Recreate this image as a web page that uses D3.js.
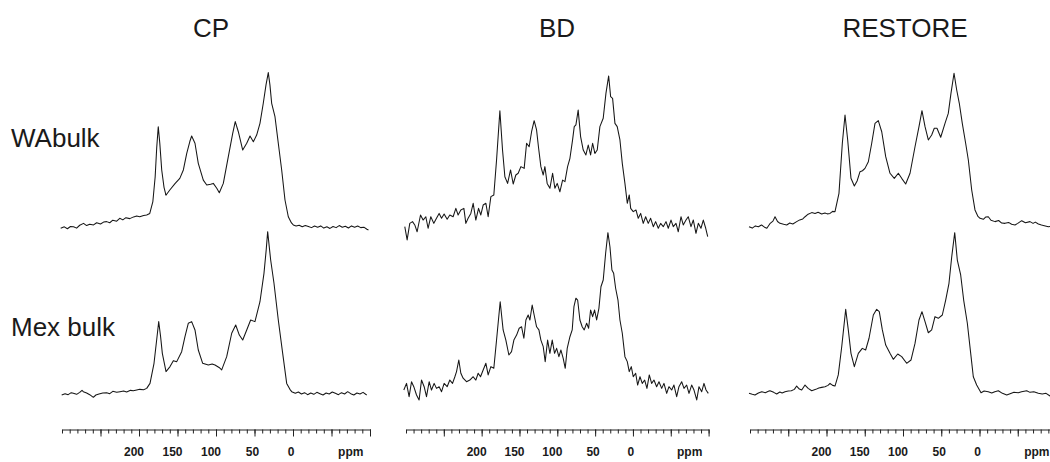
<!DOCTYPE html>
<html>
  <head>
    <script src="https://d3js.org/d3.v7.min.js"></script>
    <style>
      body { margin: 0; background: #fff; }
      svg { display: block; }
    </style>
  </head>
  <body>
    <svg width="1050" height="462"></svg>
    <script>
      // column and row names
      const methods = ["CP", "BD", "RESTORE"];
      const samples = ["WAbulk", "Mex bulk"];

      // axis: ppm domain, ticks and labels
      const ppmDomain = [300, -100];
      const minorTicks = d3.range(300, -101, -10);
      const majorTicks = [250, 200, 150, 100, 50, 0, -50, -100];
      const tickLabels = [200, 150, 100, 50, 0];
      const unitLabel = "ppm";

      // spectra: [ppm, relative intensity]
      const cpWA = [[301.7,1.1],[297,2],[293,0.8],[289,2.2],[285,2.1],[281,1.2],[277,3],[272,4.2],[268,2.8],[264,3.6],[259,3.2],[255,4.6],[250,3.8],[246,5],[242,5.3],[238,4.6],[234,6.2],[229,5.6],[225,7.4],[221,6.4],[217,7.8],[212,7.2],[207,8.3],[203,8.8],[199,8.4],[194,9.2],[190,9.5],[186,10.5],[182,18],[179,33.7],[177,52],[175,65.4],[173,55],[170.5,38],[167.5,27],[165,22],[160,25.3],[153,29.5],[147,32.7],[142.4,38],[138,48.5],[134,56],[131.6,59.5],[127.3,54.9],[123,42.2],[116.5,31.6],[112,28.5],[107,29],[103.5,29.5],[99,26.4],[95.7,23.6],[90.5,29.5],[84,46.4],[78.3,61.2],[75,68.6],[71,62.2],[65.3,50.6],[60.1,54.9],[55.8,59.5],[51.5,55.9],[47.2,60.1],[42.9,67.5],[38.6,80.2],[35,92],[32.1,99.6],[30,92],[27.7,80.2],[23.4,71.7],[19.1,54.9],[14.7,38],[10.4,19],[6.1,8.4],[2,4.5],[-0.4,3.2],[-4,2.5],[-8,3],[-12,2],[-16,2.8],[-20,2.2],[-24,1.5],[-28,2.5],[-32,1.8],[-36,2.6],[-40,1.2],[-44,2],[-48,1],[-52,2.2],[-56,1.5],[-60,2.8],[-64,1.7],[-68,2.4],[-72,1.3],[-76,2.6],[-80,1.8],[-84,2.5],[-88,1.5],[-92,1.8],[-96,0.5],[-98,0]];
      const cpMex = [[300.4,0.6],[296,1.4],[292,0.8],[288,2],[285.3,1.6],[281,1],[277,2.2],[274,3.4],[272.3,2.6],[268,1.8],[264,0.8],[259.3,-0.8],[256,0.6],[252,1.2],[247,1.8],[242,2],[238,1.4],[234,2.8],[229,2.2],[224.7,2.6],[220,3],[216,2.4],[211,3.4],[207.4,3.2],[203,3.6],[199,4],[194,3.8],[190,4.6],[185.7,7.6],[180.5,19.7],[177,34],[174.4,44.8],[172,36],[169.7,25.7],[164.9,14.7],[159.7,17.7],[155.4,21.3],[151,20.7],[144.6,26.7],[140.3,35.7],[136,43.8],[131.6,44.8],[127.3,39.8],[123,27.7],[117.3,19.7],[110,18.7],[105,19.3],[101.3,18.7],[96,17.2],[92.6,15.7],[86.1,23.7],[79.6,37.8],[74.4,42.8],[69.7,36.7],[65.3,33.7],[60.1,39.8],[55,45.8],[49.4,44.8],[42.9,56.8],[37.7,73.9],[34.8,88],[32.9,99],[29,81.9],[24.7,67.9],[19.1,45.8],[13.4,25.7],[8.2,7.6],[4,4],[1.7,2.6],[-3,1.6],[-7,2.4],[-11,1.2],[-15,2],[-19,0.8],[-23,1.8],[-27,1],[-31,2.2],[-35,1.4],[-39,0.6],[-43,1.8],[-47,1.2],[-51,2.4],[-55,1.6],[-59,0.8],[-63,2],[-67,1.2],[-71,2.6],[-75,1.4],[-79,0.6],[-83,1.8],[-87,1.2],[-91,2.2],[-95.7,0.6]];
      const bdWA = [[301.6,2.1],[298.5,-6.3],[295,4.2],[291.4,5.3],[288.4,3.2],[285.3,-1.1],[280.8,9.5],[277.4,6.3],[273.8,8.4],[270.8,1.1],[267.2,8.4],[263.2,4.2],[259.7,7.4],[256.2,10.5],[253,7.4],[249.6,10.1],[245.6,6.8],[242.1,9.5],[237.7,8.4],[234.1,13.7],[231.1,9.5],[227.5,12.7],[223.5,13.7],[220.9,4.2],[217.9,7.4],[214.3,10.5],[211.2,16.9],[207.7,6.3],[204.1,13.7],[201.1,9.5],[198,15.8],[194.4,16.9],[191.4,8.4],[187.8,21.1],[183.9,22.2],[180.3,44.3],[175.9,75.5],[172.4,50.6],[169.3,33.7],[165.7,29.5],[161.8,38],[158.3,29.1],[154.8,34.8],[151.7,35.9],[148.1,40.1],[143.8,39],[140.6,54.9],[137.2,52.7],[134,62.2],[130.6,69.2],[127.4,63.3],[124.7,51.7],[121.7,40.1],[118.6,34.8],[116.4,40.1],[113.4,29.5],[109.8,26.4],[106.2,35.9],[103.2,26.4],[100.1,29.5],[96.6,24.2],[93,31.6],[89.9,30.6],[86.4,40.1],[83.3,45.4],[79.8,57],[77.6,65.4],[75.4,66.5],[72.4,75.9],[69.2,59.1],[65.7,50.6],[62.2,47.5],[59.1,53.8],[56,47.5],[53.3,54.9],[50.3,48.5],[47.2,50.6],[43.7,65.4],[39.3,70.7],[35.7,86.5],[32.1,97.5],[29.5,84.4],[26.9,83.3],[23.8,67.5],[20.8,65.4],[17.2,57],[14.1,42.2],[10.6,29.5],[7.5,16.9],[4.9,22.2],[3,13.7],[-0.4,11.6],[-4,12.7],[-7,7.4],[-10.2,10.5],[-13.6,4.2],[-16.8,8.4],[-20.2,4.2],[-23.4,7.4],[-26.9,2.1],[-30,5.3],[-33.5,1.1],[-36.6,4.2],[-40.1,2.1],[-43.7,5.3],[-46.7,1.1],[-50.3,6.3],[-53.3,2.1],[-56.9,4.2],[-59.9,-1.1],[-63.5,8.4],[-66.5,3.2],[-70.1,6.3],[-73.1,8.4],[-76.7,2.1],[-79.8,6.3],[-83.3,-2.1],[-86.4,4.2],[-89.9,1.1],[-93,6.3],[-96.2,1.1],[-98.8,-4.2]];
      const bdMex = [[302.9,3.6],[299.3,7.6],[295.9,-0.4],[292.7,8.6],[289.7,5.6],[286.1,0.6],[282.7,-2.4],[279.5,9.6],[276,5.6],[272.9,-0.4],[269.4,8.6],[266.3,3.6],[262.8,7.6],[259.7,4.6],[256.2,5.6],[253,2.6],[249.6,7.6],[245.6,5.6],[242.1,9.6],[238.5,7.6],[235.4,11.6],[233.2,14.7],[230.2,21.7],[227.5,13.7],[224.5,10.7],[220,8.6],[215.6,9.6],[211.2,11.6],[207.7,9.6],[204.6,13.7],[201.5,11.6],[198,15.7],[194.4,19.7],[191.4,12.7],[187.8,17.7],[183.9,16.7],[180.3,33.7],[175.5,56.8],[171.6,39.8],[168,33.7],[164,24.7],[160.5,26.7],[157.4,33.7],[153.8,36.7],[150.4,40.8],[147.2,41.7],[144.2,34.8],[141.5,45.8],[138.5,48.8],[136.2,45.8],[133.2,54.8],[130.6,48.8],[127.4,41.7],[124.3,39.8],[121.7,33.7],[118.6,29.7],[116,20.7],[112.8,33.7],[109.8,25.7],[106.7,33.7],[103.6,25.7],[100.9,28.7],[97.9,23.7],[95.2,27.7],[92.2,22.7],[89.5,16.7],[86.9,28.7],[83.3,35.7],[80.3,39.8],[78,53.8],[75.4,58.9],[73.1,57.8],[70.1,45.8],[67.1,41.7],[64.4,39.8],[61.2,43.8],[58.6,40.8],[56,51.8],[53.3,47.8],[50.7,51.8],[48,45.8],[45,52.8],[42.3,65.8],[39.3,69.9],[36.1,86],[33.1,98.4],[30.4,89.9],[27.8,75.9],[25.5,73.9],[22.9,64.9],[19.8,57.8],[17.2,45.8],[14.1,37.8],[10.6,23.7],[7.5,20.7],[4.9,14.7],[2.2,17.7],[-0.4,11.6],[-3.6,13.7],[-6.2,6.6],[-9.3,11.6],[-12.3,7.6],[-15.5,9.6],[-18.5,4.6],[-21.6,12.7],[-24.7,7.6],[-27.8,9.6],[-31.3,5.6],[-34.4,8.6],[-38,4.6],[-41,7.6],[-44.6,1.6],[-47.6,5.6],[-51.2,3.6],[-54.2,6.6],[-57.8,-0.4],[-60.8,5.6],[-64.4,8.6],[-67.5,4.6],[-71,6.6],[-74.1,1.6],[-77.6,6.6],[-80.7,3.6],[-84.3,-2.4],[-87.3,5.6],[-90.9,2.6],[-93.9,7.6],[-96.6,3.6],[-99.6,1.6]];
      const reWA = [[301.3,2.1],[297,1.2],[293,2.6],[289,2.1],[285,3.2],[281,1.8],[278,1.1],[274,4],[270,5.6],[267.3,8.4],[264,5.4],[260.8,4.2],[256,3.6],[252,3.2],[248,4.4],[244,3.8],[239,5.3],[235,6.4],[231,7],[228,8.4],[224,10],[219.3,11],[215,10.4],[211,11.2],[206.3,10.1],[202,10.8],[199,10.2],[195.4,10.5],[192,11.8],[188.9,11.6],[183.7,23.2],[179.3,54.9],[175.8,72.8],[172.3,57],[168,32.7],[163.6,27.8],[160,31],[156.2,36.9],[153,37.5],[149.7,39],[145.3,43.2],[140.9,54.9],[136.6,67.5],[132.3,69.2],[127.8,62.2],[122.6,46.4],[117,35.9],[111.4,32.7],[106.1,35.9],[101.7,32.7],[96.5,29.1],[90.8,35.9],[84.3,52.7],[79.1,65.4],[75.2,75.5],[71.2,65.4],[66.9,57],[62.5,60.1],[59.1,64.4],[55.6,64.4],[50.7,58.7],[45.1,67.5],[40.8,73.8],[37.3,86.5],[33.3,99.2],[29.8,88.6],[26.4,80.2],[22.5,67.5],[18.1,54.9],[14.6,44.3],[10.2,25.3],[5.9,12.7],[2,8.6],[-0.7,7.4],[-5,6.8],[-8,8.2],[-11.5,8.4],[-15,6.2],[-20.3,5.3],[-25,6],[-29,4.4],[-33.3,4.2],[-38,4.8],[-42,3.6],[-46.4,3.2],[-50,4.2],[-55.2,5.9],[-60,4.6],[-66,5.3],[-70,4.2],[-73,5],[-76.9,3.8],[-81,3.2],[-86,2.6],[-90,2.1],[-95,2.4],[-100,2]];
      const reMex = [[301.3,1.6],[297,1],[293.5,0.6],[289,1.8],[284.7,2.6],[280,2],[276,2.8],[273.9,3.2],[269,2.2],[265.1,1.2],[261,2.4],[258,1.8],[254.2,2.6],[250,3],[246,3.2],[242,4],[239,6],[235.5,4.2],[232.4,3.6],[228.1,6.6],[224,4.6],[219.3,3.2],[214,4],[210,4.8],[206.3,5.2],[202,5.6],[198,6.4],[195.4,7.6],[192,6.4],[188.9,6],[184.6,12.7],[180.1,29.7],[174.9,52.2],[171.5,39.8],[168,25.7],[163.6,17.7],[158.4,25.7],[153.2,28.7],[148.8,27.7],[144.4,34.8],[138.8,48.8],[134.4,52.2],[131,50.8],[127,39.8],[122.6,30.7],[117,25.7],[112.7,22.1],[106.9,25.3],[101.7,23.7],[95.2,19.7],[89.5,21.7],[84.3,31.7],[79.1,45.8],[75.2,50.8],[71.2,44.8],[66.9,38.1],[62.5,39.8],[58.2,47.8],[53.9,46.8],[48.6,48.8],[44.2,57.8],[39.9,67.9],[36.3,83.9],[32.4,98.4],[29,81.9],[24.6,72.9],[20.7,57.8],[15.9,43.8],[11.5,25.7],[8.1,11.6],[3.7,6.6],[-2,2],[-6,3],[-11.5,2.6],[-16,1.8],[-20,2.6],[-24.6,3.2],[-30,1.6],[-35.6,0.6],[-40,1.4],[-45,2.2],[-50.7,2],[-55,2.6],[-61.7,3.2],[-66,2.2],[-71,2.6],[-76.9,1.6],[-82,1.2],[-87,1.6],[-92.2,0],[-100,0.4]];

      const spectra = [
        [cpWA, bdWA, reWA],
        [cpMex, bdMex, reMex]
      ];

      const svg = d3.select("svg");
      const font = "'Liberation Sans', Arial, Helvetica, sans-serif";

      // one x range per column, one y range per row
      const colRanges = [[62, 370], [406, 708.6], [750, 1056]];
      const rowRanges = [[230, 72], [396, 230]];
      const axisY = 429.5;

      const xScales = colRanges.map(r => d3.scaleLinear().domain(ppmDomain).range(r));
      const yScales = rowRanges.map(r => d3.scaleLinear().domain([0, 100]).range(r));

      spectra.forEach((row, ri) => {
        row.forEach((data, ci) => {
          const line = d3.line()
            .x(d => xScales[ci](d[0]))
            .y(d => yScales[ri](d[1]));
          svg.append("path")
            .datum(data)
            .attr("d", line)
            .attr("fill", "none")
            .attr("stroke", "#161616")
            .attr("stroke-width", 1.05)
            .attr("stroke-linejoin", "round");
        });
      });

      xScales.forEach((x, ci) => {
        const g = svg.append("g").attr("transform", `translate(0,${axisY})`);
        g.call(d3.axisBottom(x).tickValues(minorTicks).tickSize(4).tickSizeOuter(0).tickFormat(""));
        g.append("g")
          .call(d3.axisBottom(x).tickValues(majorTicks).tickSize(7).tickSizeOuter(0).tickFormat(""))
          .call(s => s.select(".domain").remove());
        g.selectAll("line, path").attr("stroke", "#222").attr("stroke-width", 1);

        g.selectAll(".lbl")
          .data(tickLabels)
          .enter().append("text")
          .attr("class", "lbl")
          .attr("x", d => x(d) - (d >= 100 ? 5 : 2))
          .attr("y", 26.5)
          .attr("text-anchor", "middle")
          .attr("font-family", font)
          .attr("font-weight", "bold")
          .attr("font-size", 12)
          .attr("fill", "#1a1a1a")
          .text(d => d);

        g.append("text")
          .attr("x", x(-75))
          .attr("y", 26.5)
          .attr("text-anchor", "middle")
          .attr("font-family", font)
          .attr("font-weight", "bold")
          .attr("font-size", 12)
          .attr("fill", "#1a1a1a")
          .text(unitLabel);
      });

      // column titles
      const titleX = [211, 557, 905];
      svg.selectAll(".title")
        .data(methods)
        .enter().append("text")
        .attr("class", "title")
        .attr("x", (d, i) => titleX[i])
        .attr("y", 37)
        .attr("text-anchor", "middle")
        .attr("font-family", font)
        .attr("font-size", 26)
        .attr("fill", "#1a1a1a")
        .text(d => d);

      // row labels
      const labelY = [147, 336];
      svg.selectAll(".rowlabel")
        .data(samples)
        .enter().append("text")
        .attr("class", "rowlabel")
        .attr("x", 11)
        .attr("y", (d, i) => labelY[i])
        .attr("font-family", font)
        .attr("font-size", 26)
        .attr("fill", "#1a1a1a")
        .text(d => d);
    </script>
  </body>
</html>
